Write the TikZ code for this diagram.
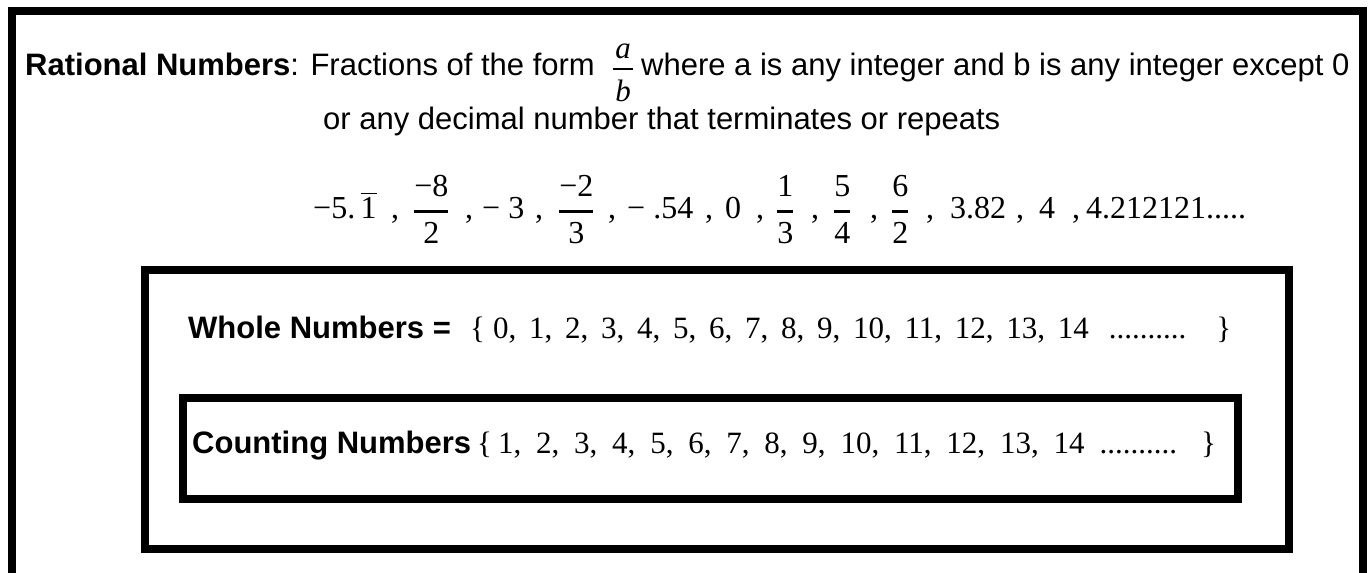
\documentclass[tikz,border=0pt]{standalone}
\usepackage{amsmath}
\usepackage{fontspec}
\setmainfont{Liberation Serif}
\setsansfont{Liberation Sans}
\usetikzlibrary{positioning}
\newcommand{\qfrac}[2]{\ensuremath{\genfrac{}{}{3pt}{0}{\text{#1}\rule[-4.5pt]{0pt}{4.5pt}}{\rule{0pt}{21.5pt}\text{#2}}}}
\newcommand{\wg}{\hspace{12.75pt}}
\newcommand{\cg}{\hspace{14.8pt}}

\begin{document}
\begin{tikzpicture}[x=1pt,y=-1pt,
  setbox/.style={draw,line width=8pt,anchor=north west,inner sep=0pt,outer sep=0pt},
  head/.style={font=\fontsize{31}{37}\selectfont\sffamily,anchor=base west,inner sep=0pt},
  nums/.style={font=\fontsize{31}{37}\selectfont\rmfamily,anchor=base west,inner sep=0pt},
  row/.style={font=\fontsize{32}{38}\selectfont\rmfamily,anchor=base west,inner sep=0pt}
]
\useasboundingbox (0,0) rectangle (1369,573);
% nested sets
\node[setbox,minimum width=1351.5pt,minimum height=600pt] (rational) at (11.5,11) {};
\node[setbox,minimum width=1144pt,minimum height=279pt] (whole) at (145,270) {};
\node[setbox,minimum width=1055pt,minimum height=101pt] (counting) at (182.5,398) {};

\node[head] (ratdef) at (25,75) {\textbf{Rational Numbers}: Fractions of the form\hspace{17pt}$\genfrac{}{}{2.5pt}{0}{\text{\rmfamily\itshape\makebox[20pt]{a}}}{\rule{0pt}{24pt}\text{\rmfamily\itshape b}}$\hspace{7pt}where a is any integer and b is any integer except 0};
\node[head] (ratmore) at (323,129) {or any decimal number that terminates or repeats};

% example row, item by item
\foreach \x/\t [count=\i] in {313/{−5.\,$\overline{\text{1}}$}, 391/{,}, 413/{\qfrac{−8}{2}}, 465/{,},
    482/{− 3}, 535/{,}, 558/{\qfrac{−2}{3}}, 608/{,}, 627/{− .54}, 705/{,}, 725/{0}, 756/{,},
    776/{\qfrac{1}{3}}, 811/{,}, 833/{\qfrac{5}{4}}, 870/{,}, 891/{\qfrac{6}{2}}, 926/{,},
    950/{3.82}, 1016/{,}, 1039/{4}, 1072/{,}, 1086/{4.212121.....}}
  \node[row] (ex\i) at (\x,218) {\t};

\node[head] (wholelabel) at (188,338) {\textbf{Whole Numbers =}};
\node[nums] (wholeset) at (470,338) {\{\hspace{8pt}0,\wg 1,\wg 2,\wg 3,\wg 4,\wg 5,\wg 6,\wg 7,\wg 8,\wg 9,\wg 10,\wg 11,\wg 12,\wg 13,\wg 14\hspace{20pt}..........\hspace{30pt}\}};

\node[head] (countlabel) at (192,453) {\textbf{Counting Numbers}};
\node[nums] (countset) at (477,453) {\{\hspace{6pt}1,\cg 2,\cg 3,\cg 4,\cg 5,\cg 6,\cg 7,\cg 8,\cg 9,\cg 10,\cg 11,\cg 12,\cg 13,\cg 14\hspace{15pt}..........\hspace{24pt}\}};
\end{tikzpicture}
\end{document}
